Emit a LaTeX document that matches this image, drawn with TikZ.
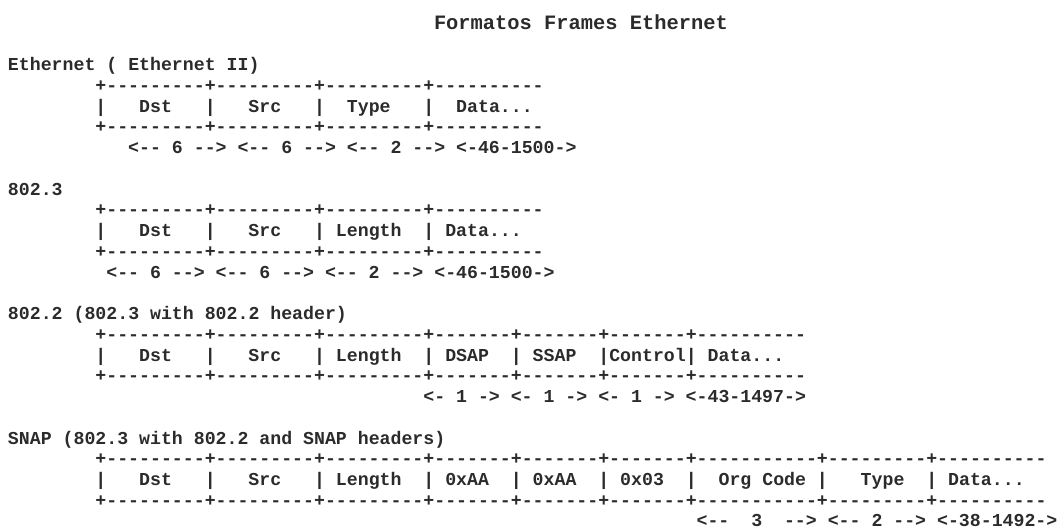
\documentclass[tikz,border=0pt]{standalone}
\usepackage{fontspec}
\setmonofont{Liberation Mono}
\definecolor{ink}{HTML}{2B2B2B}
% one character cell of the frame sketches, and the line pitch (1 unit = 1pt)
\newcommand{\cw}{10.93}
\newcommand{\lp}{20.74}
\newcommand{\bodyfont}{\fontsize{18.22}{20}\selectfont\ttfamily\bfseries}
\newcommand{\headfont}{\fontsize{20.4}{22}\selectfont\ttfamily\bfseries}
\tikzset{
  ln/.style={anchor=base west, inner sep=0pt, outer sep=0pt, text=ink, font=\bodyfont},
  head/.style={anchor=base west, inner sep=0pt, outer sep=0pt, text=ink, font=\headfont},
}
% place a text line: column, line number
\newcommand{\at}[2]{({8+(#1)*\cw},{-(70.7+((#2)-2)*\lp)})}
\begin{document}
\begin{tikzpicture}[x=1pt,y=1pt]
\useasboundingbox (0,0) rectangle (1057,-530);

\node[head] (title) at (434,-29.2) {Formatos~Frames~Ethernet};

% Ethernet II
\node[ln] (e2name) at \at{0}{2} {Ethernet~(~Ethernet~II)};
\node[ln] (e2top)  at \at{8}{3} {+---------+---------+---------+----------};
\node[ln] (e2row)  at \at{8}{4} {|~~~Dst~~~|~~~Src~~~|~~Type~~~|~~Data...};
\node[ln] (e2bot)  at \at{8}{5} {+---------+---------+---------+----------};
\node[ln] (e2len)  at \at{11}{6} {<--~6~-->~<--~6~-->~<--~2~-->~<-46-1500->};

% 802.3
\node[ln] (n3name) at \at{0}{8} {802.3};
\node[ln] (n3top)  at \at{8}{9} {+---------+---------+---------+----------};
\node[ln] (n3row)  at \at{8}{10} {|~~~Dst~~~|~~~Src~~~|~Length~~|~Data...};
\node[ln] (n3bot)  at \at{8}{11} {+---------+---------+---------+----------};
\node[ln] (n3len)  at \at{9}{12} {<--~6~-->~<--~6~-->~<--~2~-->~<-46-1500->};

% 802.2
\node[ln] (n2name) at \at{0}{14} {802.2~(802.3~with~802.2~header)};
\node[ln] (n2top)  at \at{8}{15} {+---------+---------+---------+-------+-------+-------+----------};
\node[ln] (n2row)  at \at{8}{16} {|~~~Dst~~~|~~~Src~~~|~Length~~|~DSAP~~|~SSAP~~|Control|~Data...};
\node[ln] (n2bot)  at \at{8}{17} {+---------+---------+---------+-------+-------+-------+----------};
\node[ln] (n2len)  at \at{38}{18} {<-~1~->~<-~1~->~<-~1~->~<-43-1497->};

% SNAP
\node[ln] (snname) at \at{0}{20} {SNAP~(802.3~with~802.2~and~SNAP~headers)};
\node[ln] (sntop)  at \at{8}{21} {+---------+---------+---------+-------+-------+-------+-----------+---------+----------};
\node[ln] (snrow)  at \at{8}{22} {|~~~Dst~~~|~~~Src~~~|~Length~~|~0xAA~~|~0xAA~~|~0x03~~|~~Org~Code~|~~~Type~~|~Data...};
\node[ln] (snbot)  at \at{8}{23} {+---------+---------+---------+-------+-------+-------+-----------+---------+----------};
\node[ln] (snlen)  at \at{63}{24} {<--~~3~~-->~<--~2~-->~<-38-1492->};
\end{tikzpicture}
\end{document}
